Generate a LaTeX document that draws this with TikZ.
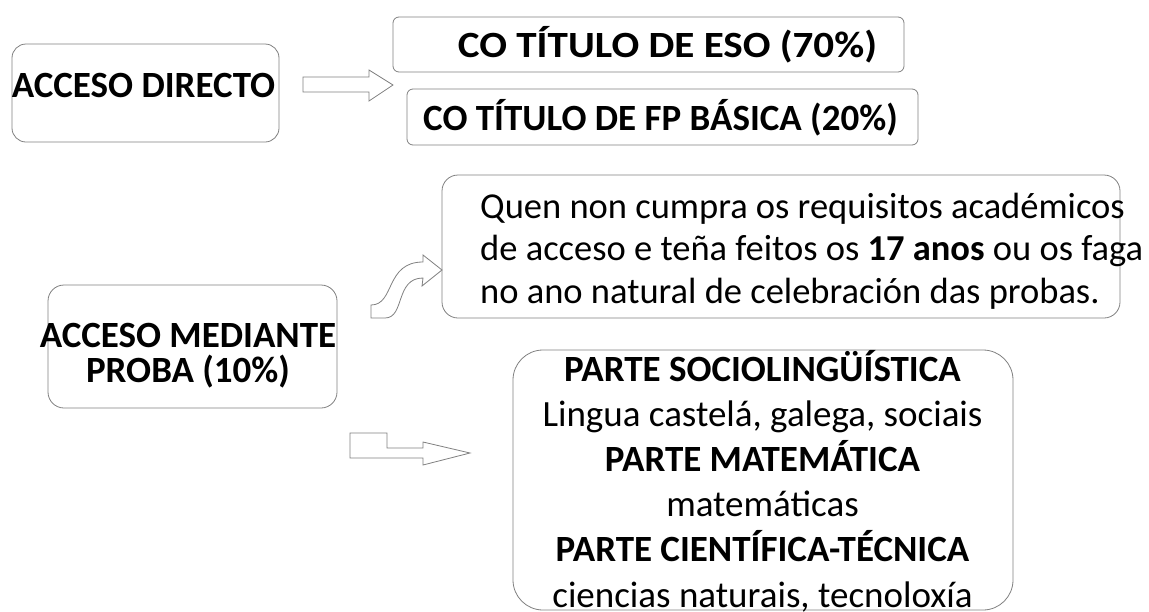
\documentclass[tikz,border=0pt]{standalone}
\usepackage{fontspec}
\usepackage{graphicx}
\setmainfont{Carlito}
\usetikzlibrary{positioning}
\tikzset{
  box/.style={draw=black!50, line width=0.8pt, rounded corners=#1, inner sep=0pt},
  box/.default=12pt,
  blockarrow/.style={draw=black!50, line width=0.8pt, fill=white},
  headtxt/.style={font=\fontsize{37}{35}\selectfont\bfseries, anchor=base, inner sep=0pt},
  bodytxt/.style={font=\fontsize{36.5}{42.5}\selectfont, align=left, anchor=base west, inner sep=0pt},
  partstxt/.style={font=\fontsize{37}{45.2}\selectfont, align=center, anchor=base, inner sep=0pt},
}
\begin{document}
\begin{tikzpicture}[x=1pt,y=-1pt]
  \useasboundingbox (0,0) rectangle (1149,611);
  % acceso directo
  \node[box=14pt, minimum width=267pt, minimum height=98pt] (directo) at (145.5,93) {};
  \node[headtxt] (directotxt) at (143.5,97) {ACCESO DIRECTO};
  \node[box=6pt, minimum width=511pt, minimum height=55pt] (eso) at (648.5,44.5) {};
  \node[headtxt] (esotxt) at (667.5,57) {\scalebox{1.11}[1]{CO TÍTULO DE ESO (70\%)}};
  \node[box=6pt, minimum width=511pt, minimum height=56pt] (fp) at (662.5,117) {};
  \node[headtxt] (fptxt) at (660.5,130) {CO TÍTULO DE FP BÁSICA (20\%)};
  \draw[blockarrow] (303,77) -- (369,77) -- (369,70) -- (393,85)
    -- (369,101) -- (369,92) -- (303,92) -- cycle;
  % acceso mediante proba
  \node[box=16pt, minimum width=289pt, minimum height=123pt] (proba) at (192.5,346.5) {};
  \node[headtxt, align=center] (probatxt) at (188,382)
    {ACCESO MEDIANTE\\PROBA (10\%)};
  \node[box=16pt, minimum width=678pt, minimum height=143pt] (requisitos) at (781,246.5) {};
  \node[bodytxt] (requisitostxt) at (480,303)
    {Quen non cumpra os requisitos académicos\\
     de acceso e teña feitos os \textbf{17 anos} ou os faga\\
     no ano natural de celebración das probas.};
  \draw[blockarrow] (371,305) .. controls (395,305) and (385,262) .. (423,262)
    -- (423,255) -- (442,270) -- (422,286) -- (423,278)
    .. controls (395,278) and (405,318) .. (385,318) -- (371,318) -- cycle;
  \node[box=30pt, minimum width=500pt, minimum height=260pt] (partes) at (763,480) {};
  \node[partstxt] (partestxt) at (762.5,607)
    {\textbf{PARTE SOCIOLINGÜÍSTICA}\\
     Lingua castelá, galega, sociais\\
     \textbf{PARTE MATEMÁTICA}\\
     matemáticas\\
     \textbf{PARTE CIENTÍFICA-TÉCNICA}\\
     ciencias naturais, tecnoloxía};
  \draw[blockarrow] (350,433) -- (387,433) -- (387,448) -- (423,448) -- (423,442)
    -- (470,453) -- (423,465) -- (423,458) -- (350,458) -- cycle;
\end{tikzpicture}
\end{document}
